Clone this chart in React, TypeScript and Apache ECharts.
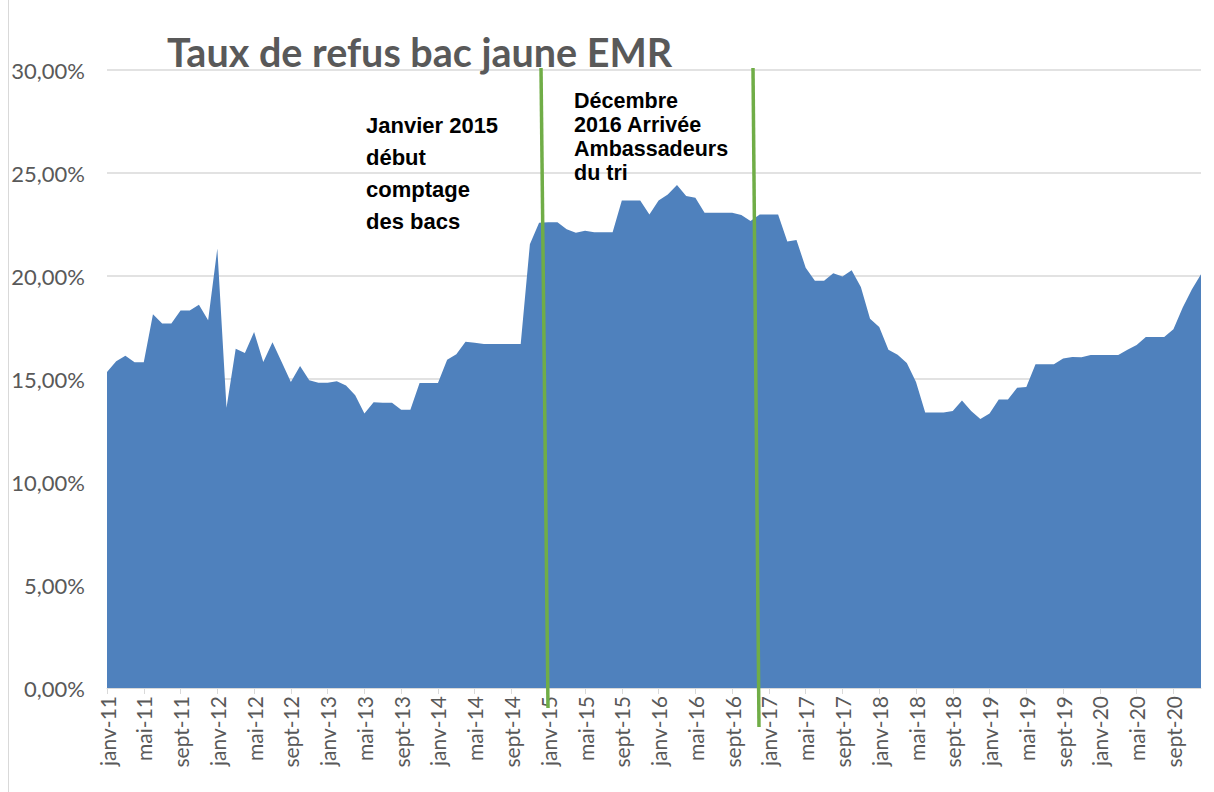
import React, { useEffect, useRef } from "react";
import * as echarts from "echarts";

const monthNames = ["janv", "févr", "mars", "avr", "mai", "juin", "juil", "août", "sept", "oct", "nov", "déc"];
const years = ["11", "12", "13", "14", "15", "16", "17", "18", "19", "20"];

const values2011 = [15.34, 15.86, 16.13, 15.81, 15.81, 18.14, 17.69, 17.69, 18.32, 18.33, 18.61, 17.85];
const values2012 = [21.33, 13.61, 16.47, 16.26, 17.28, 15.83, 16.78, 15.83, 14.85, 15.63, 14.94, 14.82];
const values2013 = [14.82, 14.89, 14.69, 14.21, 13.32, 13.87, 13.85, 13.85, 13.51, 13.51, 14.81, 14.81];
const values2014 = [14.81, 15.94, 16.2, 16.81, 16.76, 16.7, 16.7, 16.7, 16.7, 16.7, 21.54, 22.59];
const values2015 = [22.61, 22.61, 22.27, 22.1, 22.2, 22.12, 22.12, 22.12, 23.67, 23.67, 23.67, 22.98];
const values2016 = [23.67, 23.96, 24.42, 23.88, 23.8, 23.07, 23.07, 23.07, 23.07, 22.96, 22.67, 22.98];
const values2017 = [22.98, 22.98, 21.67, 21.75, 20.4, 19.77, 19.77, 20.13, 19.98, 20.28, 19.47, 17.93];
const values2018 = [17.52, 16.42, 16.18, 15.78, 14.85, 13.37, 13.37, 13.37, 13.45, 13.96, 13.45, 13.06];
const values2019 = [13.32, 14.0, 14.0, 14.58, 14.61, 15.71, 15.71, 15.71, 15.99, 16.07, 16.05, 16.17];
const values2020 = [16.17, 16.17, 16.17, 16.42, 16.65, 17.04, 17.04, 17.04, 17.41, 18.46, 19.34, 20.08];

const yTicks = [0, 5, 10, 15, 20, 25, 30];

const title = "Taux de refus bac jaune EMR";
const note2015 = ["Janvier 2015", "début", "comptage", "des bacs"];
const note2016 = ["Décembre", "2016 Arrivée", "Ambassadeurs", "du tri"];

export default function App() {
  const ref = useRef<HTMLDivElement>(null);

  useEffect(() => {
    if (!ref.current) return;
    const chart = echarts.init(ref.current, undefined, { renderer: "svg" });

    const categories: string[] = [];
    years.forEach((y) => monthNames.forEach((m) => categories.push(`${m}-${y}`)));
    const data = [
      ...values2011, ...values2012, ...values2013, ...values2014, ...values2015,
      ...values2016, ...values2017, ...values2018, ...values2019, ...values2020,
    ];

    const font = "Lato, 'Open Sans', sans-serif";
    const noteFont = "'Liberation Sans', Arial, sans-serif";
    const green = "#70AD47";

    const noteTexts = (lines: string[], x: number, yCenter0: number, step: number, size: number) =>
      lines.map((t, k) => ({
        type: "text",
        x,
        y: yCenter0 + k * step,
        z: 100,
        style: {
          text: t,
          fontFamily: noteFont,
          fontSize: size,
          fontWeight: "bold",
          fill: "#000000",
          verticalAlign: "middle",
        },
      }));

    chart.setOption({
      animation: false,
      backgroundColor: "#ffffff",
      title: {
        text: title,
        left: 162,
        top: 26,
        textStyle: { fontFamily: font, fontSize: 39.5, fontWeight: "bold", color: "#595959" },
      },
      grid: { left: 107, right: 13, top: 70, bottom: 104, containLabel: false },
      xAxis: {
        type: "category",
        data: categories,
        boundaryGap: false,
        axisLine: { show: true, lineStyle: { color: "#d9d9d9", width: 1 } },
        axisTick: { show: true, interval: 3, length: 6, lineStyle: { color: "#d9d9d9" } },
        axisLabel: {
          interval: 3,
          rotate: 90,
          fontFamily: font,
          fontSize: 21,
          color: "#595959",
          margin: 8,
        },
        splitLine: { show: false },
      },
      yAxis: {
        type: "value",
        min: yTicks[0],
        max: yTicks[yTicks.length - 1],
        interval: 5,
        axisLine: { show: false },
        axisTick: { show: false },
        axisLabel: {
          fontFamily: font,
          fontSize: 22,
          color: "#595959",
          margin: 22,
          formatter: (v: number) => v.toFixed(2).replace(".", ",") + "%",
        },
        splitLine: { show: true, lineStyle: { color: "#d9d9d9", width: 1.5 } },
      },
      series: [
        {
          type: "line",
          data,
          symbol: "none",
          lineStyle: { width: 0, color: "#4F81BD" },
          itemStyle: { color: "#4F81BD" },
          areaStyle: { color: "#4F81BD", opacity: 1 },
        },
      ],
      graphic: [
        { type: "line", shape: { x1: 8.5, y1: 0, x2: 8.5, y2: 792 }, style: { stroke: "#d9d9d9", lineWidth: 1 }, silent: true },
        { type: "line", shape: { x1: 541, y1: 68, x2: 548, y2: 708 }, style: { stroke: green, lineWidth: 3.5 }, z: 100 },
        { type: "line", shape: { x1: 753, y1: 68, x2: 759, y2: 727 }, style: { stroke: green, lineWidth: 3.5 }, z: 100 },
        ...noteTexts(note2015, 366, 125, 32, 22),
        ...noteTexts(note2016, 574, 100.5, 24.2, 21.5),
      ],
    });

    return () => chart.dispose();
  }, []);

  return (
    <div
      ref={ref}
      style={{ position: "absolute", left: 0, top: 0, width: 1214, height: 792 }}
    />
  );
}
